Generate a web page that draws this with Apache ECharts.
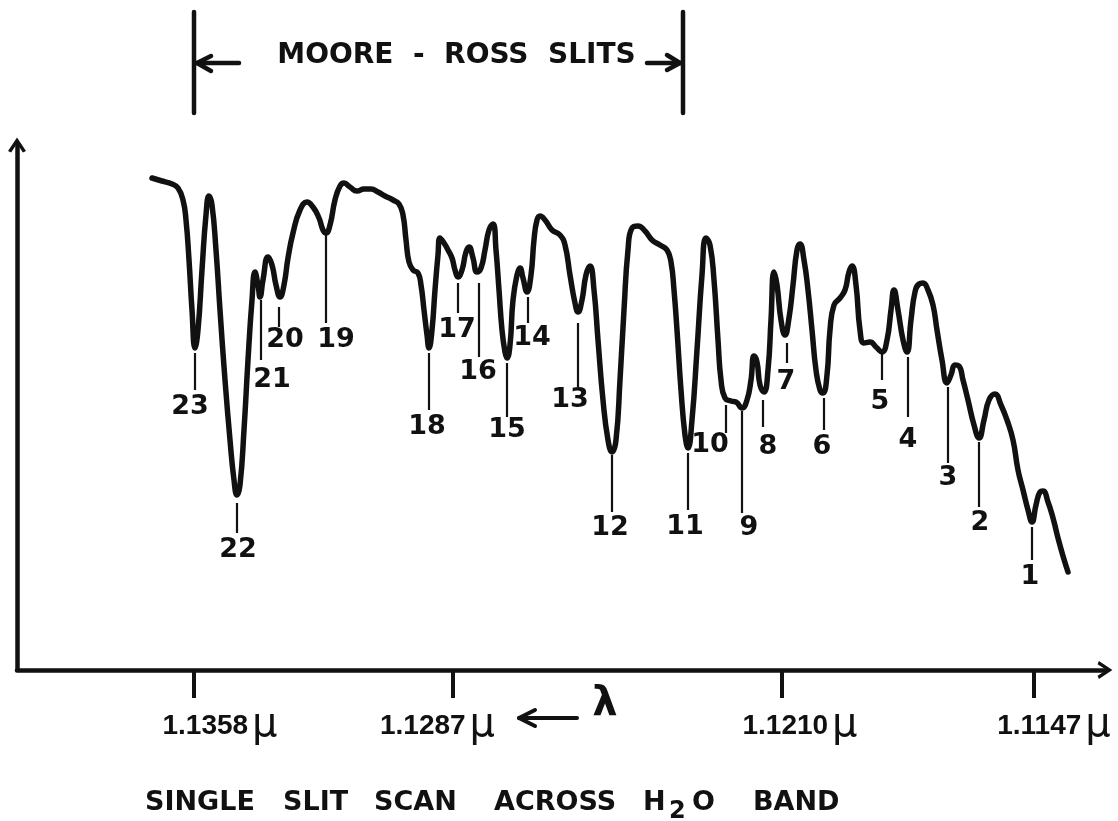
<!DOCTYPE html>
<html><head><meta charset="utf-8">
<script src="https://cdn.jsdelivr.net/npm/echarts@6/dist/echarts.min.js"></script>
<style>html,body{margin:0;padding:0;background:#fff}#c{width:1118px;height:821px}</style>
</head><body><div id="c"></div>
<script>
// ---- data (x: scan position, chart divisions; y: detector signal, chart divisions) ----
const scanPos = [13.5,14.5,15.5,16.1,16.6,16.9,17.2,17.5,17.8,18.1,18.5,18.9,19.2,19.5,19.9,20.3,20.8,21.3,21.7,22.0,22.3,22.7,23.1,23.5,23.8,24.1,24.3,24.6,25.1,25.5,25.9,26.3,26.7,27.1,27.6,28.3,29.0,29.6,30.2,30.6,30.9,31.3,31.8,32.3,32.7,33.3,34.0,34.7,35.4,36.1,36.8,37.6,38.2,38.6,38.9,39.2,39.6,40.1,40.4,40.7,41.0,41.2,41.5,41.8,42.1,42.3,42.7,43.1,43.5,43.8,44.1,44.5,44.9,45.2,45.6,46.0,46.4,46.8,47.2,47.6,47.9,48.2,48.5,48.8,49.0,49.3,49.6,50.0,50.3,50.6,51.0,51.4,51.7,52.0,52.3,52.8,53.5,54.3,54.8,55.3,55.8,56.1,56.5,56.9,57.3,57.7,58.1,58.6,59.1,59.5,59.9,60.3,60.7,61.1,61.5,62.1,62.8,63.5,64.3,65.0,65.4,65.7,66.0,66.4,66.8,67.1,67.5,68.0,68.5,68.9,69.3,69.7,70.1,70.4,70.8,71.4,71.9,72.5,73.0,73.4,73.7,74.0,74.3,74.7,75.1,75.4,75.7,76.0,76.4,76.8,77.2,77.6,78.0,78.3,78.7,79.1,79.5,79.9,80.3,80.6,81.0,81.3,81.7,82.3,82.8,83.2,83.5,83.9,84.3,84.7,85.3,85.9,86.5,87.0,87.4,87.7,88.1,88.6,89.0,89.4,89.8,90.2,90.6,91.1,91.6,92.0,92.5,93.0,93.4,93.8,94.2,94.6,95.1,95.7,96.2,96.7,97.2,97.8,98.4,99.0,99.6,100.1,100.6,101.1,101.5,101.9,102.3,102.6,103.1,103.6,104.1,104.6,105.1];
const signal = [49.2,48.9,48.6,48.2,47.0,45.0,41.0,36.0,32.2,34.0,40.0,45.5,47.4,46.5,42.0,36.0,29.0,23.0,19.0,17.5,18.5,24.0,31.0,37.0,39.8,38.5,37.3,39.0,41.3,40.5,38.5,37.3,38.5,41.2,43.7,46.0,46.8,46.3,45.2,44.0,43.7,44.5,47.0,48.4,48.7,48.3,47.9,48.1,48.1,47.8,47.4,47.0,46.6,45.5,43.0,40.8,40.0,39.7,38.5,36.0,33.5,32.2,34.0,38.0,41.5,43.2,42.7,42.0,41.2,40.0,39.3,40.0,41.8,42.3,41.2,39.8,40.2,42.0,44.0,44.6,42.0,38.0,34.0,31.8,31.2,32.5,37.0,39.5,40.2,39.2,37.8,39.5,43.0,45.0,45.4,45.0,44.0,43.5,42.5,39.5,36.7,35.8,37.0,39.5,40.4,38.0,33.0,27.0,23.0,21.8,23.0,29.0,36.0,42.0,44.2,44.4,43.9,43.0,42.5,42.0,40.8,38.0,34.0,28.0,23.5,22.2,25.0,32.0,39.5,43.2,42.5,39.0,33.0,29.0,27.2,26.9,26.8,26.2,27.0,29.0,31.4,30.8,28.5,27.8,30.0,35.0,39.8,38.5,35.0,33.5,35.2,38.5,42.0,42.6,41.0,38.0,34.0,30.0,28.0,27.7,29.5,34.0,36.5,37.2,38.0,39.8,40.4,38.5,34.0,32.7,32.8,32.3,31.8,33.0,36.0,38.0,36.0,33.0,31.8,35.0,37.8,38.6,38.7,38.0,36.5,34.0,31.0,28.7,29.5,30.5,30.4,29.0,27.0,24.5,23.2,25.0,27.0,27.6,26.5,25.0,23.0,20.0,18.0,16.0,14.8,16.5,17.8,17.9,16.8,15.2,13.2,11.4,9.8];

// absorption lines: number, scan position, marker line top / bottom
const peakNumbers = [23,22,21,20,19,18,17,16,15,14,13,12,11,10,9,8,7,6,5,4,3,2,1];
const peakPos     = [17.8,22.0,24.4,26.2,30.9,41.2,44.1,46.2,49.0,51.1,56.1,59.5,67.1,70.9,72.5,74.6,77.0,80.7,86.5,89.1,93.1,96.2,101.5];
const markTop     = [31.7,16.7,37.0,36.3,43.5,31.7,38.7,38.7,30.7,37.3,34.7,21.5,21.7,26.5,25.9,27.0,32.7,27.2,31.7,31.3,28.3,22.8,14.3];
const markBottom  = [28.0,13.7,31.0,34.3,34.7,26.0,35.7,31.3,25.3,34.7,28.3,15.8,16.0,23.7,15.7,24.3,30.7,24.0,29.0,25.3,20.7,16.3,11.0];

// wavelength scale
const tickPos    = [17.7, 43.6, 76.5, 101.7];
const tickLabels = ['1.1358', '1.1287', '1.1210', '1.1147'];

// Moore-Ross slit edges (scan position)
const slitEdges = [17.7, 66.6];

// ---- layout (pixels) ----
const labelDx = [-5,1,11,6,10,-2,-1,-1,0,4,-8,-2,-3,-16,7,5,-1,-2,-2,0,0,1,-2];
const labelDy = [17,17,20,13,17,17,17,15,13,15,13,16,17,12,15,20,19,17,22,23,15,16,17];
const tickLabelShift = [26, -15.5, 18, 20];
const INK = '#111';

const chart = echarts.init(document.getElementById('c'));
const chevron = 'path://M0,15 L10,0 L20,15 L16.5,16.5 L10,6.5 L3.5,16.5 Z';

const rich = {
  d: { fontFamily: 'Liberation Sans', fontWeight: 'bold', fontSize: 28, color: INK, lineHeight: 40 },
  g: { width: 4 },
  u: { fontFamily: 'DejaVu Sans', fontSize: 40, color: INK, lineHeight: 40 }
};
tickLabelShift.forEach((s, i) => { rich['sp' + i] = { width: Math.abs(s) * 2 }; });

chart.setOption({
  animation: false,
  backgroundColor: '#fff',
  grid: { left: 17, right: 13, top: 145, bottom: 151 },
  xAxis: {
    type: 'value', min: 0, max: 108.8,
    splitLine: { show: false },
    axisLine: { show: true, onZero: false, symbol: ['none', chevron], symbolSize: [18, 15],
      lineStyle: { color: INK, width: 4.5 } },
    axisTick: { show: true, customValues: tickPos, length: 28, lineStyle: { color: INK, width: 4 } },
    axisLabel: {
      show: true, customValues: tickPos, margin: 36,
      formatter: (v) => {
        let i = tickPos.findIndex(t => Math.abs(t - v) < 1e-6);
        if (i < 0) return '';
        const s = tickLabelShift[i];
        const core = '{d|' + tickLabels[i] + '}{g| }{u|μ}';
        return s >= 0 ? '{sp' + i + '| }' + core : core + '{sp' + i + '| }';
      },
      rich: rich
    }
  },
  yAxis: {
    type: 'value', min: 0, max: 52.5,
    splitLine: { show: false },
    axisLine: { show: true, onZero: false, symbol: ['none', chevron], symbolSize: [18, 15],
      lineStyle: { color: INK, width: 4.5 } },
    axisTick: { show: false }, axisLabel: { show: false }
  },
  series: [
    {
      type: 'line', name: 'scan',
      data: scanPos.map((x, i) => [x, signal[i]]),
      showSymbol: false, symbol: 'none',
      smooth: 0.5,
      lineStyle: { color: INK, width: 5.5, cap: 'round', join: 'round' },
      z: 4
    },
    {
      type: 'custom', name: 'lines',
      data: peakNumbers.map((n, i) => [peakPos[i], markTop[i], markBottom[i]]),
      encode: { x: 0, y: [1, 2] },
      silent: true, z: 3,
      renderItem: (params, api) => {
        const i = params.dataIndex;
        const a = api.coord([api.value(0), api.value(1)]);
        const b = api.coord([api.value(0), api.value(2)]);
        return { type: 'group', children: [
          { type: 'line', shape: { x1: a[0], y1: a[1], x2: b[0], y2: b[1] },
            style: { stroke: INK, lineWidth: 2.2 } },
          { type: 'text', style: { text: String(peakNumbers[i]), x: b[0] + labelDx[i], y: b[1] + labelDy[i],
            align: 'center', verticalAlign: 'middle', font: "bold 27px 'DejaVu Sans'", fill: INK } }
        ] };
      }
    },
    {
      type: 'custom', name: 'slits',
      data: [[slitEdges[0], 0, slitEdges[1]]],
      encode: { x: [0, 2], y: 1 },
      silent: true, clip: false,
      renderItem: (params, api) => {
        const xl = api.coord([api.value(0), 0])[0];
        const xr = api.coord([api.value(2), 0])[0];
        const top = 12, bot = 113, ay = 63;
        const st = { stroke: INK, lineWidth: 4.5, lineCap: 'round', lineJoin: 'round', fill: null };
        return { type: 'group', children: [
          { type: 'line', shape: { x1: xl, y1: top, x2: xl, y2: bot }, style: st },
          { type: 'line', shape: { x1: xr, y1: top, x2: xr, y2: bot }, style: st },
          { type: 'line', shape: { x1: xl + 2, y1: ay, x2: xl + 45, y2: ay }, style: st },
          { type: 'polyline', shape: { points: [[xl + 17, ay - 7], [xl + 3, ay], [xl + 17, ay + 8]] }, style: st },
          { type: 'line', shape: { x1: xr - 36, y1: ay, x2: xr - 2, y2: ay }, style: st },
          { type: 'polyline', shape: { points: [[xr - 16, ay - 8], [xr - 3, ay], [xr - 16, ay + 7]] }, style: st },
          { type: 'text', style: { text: 'MOORE  -  ROSS  SLITS', x: (xl + xr) / 2 + 18, y: 56,
            align: 'center', verticalAlign: 'middle', font: "bold 28px 'DejaVu Sans'", fill: INK } }
        ] };
      }
    }
  ],
  graphic: [
    { type: 'line', shape: { x1: 519, y1: 718, x2: 577, y2: 718 }, style: { stroke: INK, lineWidth: 4, lineCap: 'round' } },
    { type: 'polyline', shape: { points: [[535, 710], [519, 718], [535, 726]] }, style: { stroke: INK, lineWidth: 4, lineCap: 'round', lineJoin: 'round', fill: null } },
    { type: 'text', style: { text: 'λ', x: 605, y: 705, align: 'center', verticalAlign: 'middle', font: "bold 40px 'DejaVu Sans'", fill: INK } },
    { type: 'text', style: { text: 'SINGLE', x: 145, y: 803, verticalAlign: 'middle', font: "bold 27px 'DejaVu Sans'", fill: INK } },
    { type: 'text', style: { text: 'SLIT', x: 283, y: 803, verticalAlign: 'middle', font: "bold 27px 'DejaVu Sans'", fill: INK } },
    { type: 'text', style: { text: 'SCAN', x: 374, y: 803, verticalAlign: 'middle', font: "bold 27px 'DejaVu Sans'", fill: INK } },
    { type: 'text', style: { text: 'ACROSS', x: 494, y: 803, verticalAlign: 'middle', font: "bold 27px 'DejaVu Sans'", fill: INK } },
    { type: 'text', style: { text: 'H', x: 643, y: 803, verticalAlign: 'middle', font: "bold 27px 'DejaVu Sans'", fill: INK } },
    { type: 'text', style: { text: '2', x: 669, y: 812, verticalAlign: 'middle', font: "bold 24px 'DejaVu Sans'", fill: INK } },
    { type: 'text', style: { text: 'O', x: 692, y: 803, verticalAlign: 'middle', font: "bold 27px 'DejaVu Sans'", fill: INK } },
    { type: 'text', style: { text: 'BAND', x: 753, y: 803, verticalAlign: 'middle', font: "bold 27px 'DejaVu Sans'", fill: INK } }
  ]
});
</script>
</body></html>
